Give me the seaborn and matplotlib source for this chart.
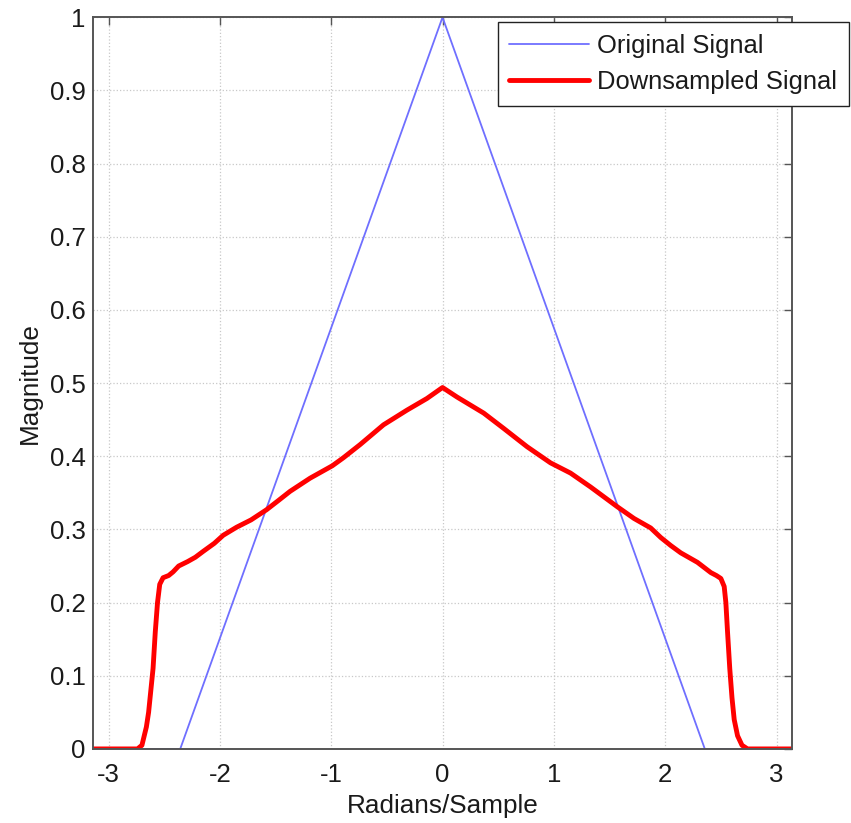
import numpy as np
import pandas as pd
import matplotlib
matplotlib.use('Agg')
import matplotlib.pyplot as plt
import seaborn as sns

# original signal: triangle spectrum (corner points)
orig_x = [-np.pi, -2.356, 0.0, 2.356, np.pi]
orig_y = [0.0, 0.0, 1.0, 0.0, 0.0]

# downsampled signal
down_x = [-np.pi, -2.74, -2.70, -2.66, -2.64, -2.62, -2.60, -2.58, -2.56, -2.54,
          -2.51, -2.46, -2.42, -2.37, -2.29, -2.22, -2.15, -2.05, -1.97, -1.85,
          -1.72, -1.58, -1.47, -1.37, -1.19, -0.99, -0.89, -0.74, -0.53, -0.32,
          -0.14, 0.0, 0.13, 0.37, 0.55, 0.76, 0.97, 1.15, 1.33, 1.57,
          1.72, 1.87, 1.96, 2.05, 2.14, 2.29, 2.41, 2.46, 2.50, 2.53,
          2.545, 2.56, 2.58, 2.60, 2.62, 2.65, 2.69, 2.74, np.pi]
down_y = [0.0, 0.0, 0.005, 0.03, 0.05, 0.08, 0.11, 0.16, 0.20, 0.225,
          0.234, 0.237, 0.242, 0.250, 0.256, 0.262, 0.270, 0.281, 0.292, 0.303,
          0.313, 0.327, 0.340, 0.352, 0.370, 0.387, 0.398, 0.416, 0.443, 0.463,
          0.479, 0.494, 0.481, 0.459, 0.438, 0.413, 0.391, 0.377, 0.358, 0.331,
          0.315, 0.302, 0.289, 0.278, 0.268, 0.255, 0.241, 0.237, 0.233, 0.222,
          0.20, 0.16, 0.11, 0.07, 0.04, 0.018, 0.005, 0.0, 0.0]

xticks = [-3, -2, -1, 0, 1, 2, 3]
yticks = [0, 0.1, 0.2, 0.3, 0.4, 0.5, 0.6, 0.7, 0.8, 0.9, 1]
ytick_labels = ['0', '0.1', '0.2', '0.3', '0.4', '0.5', '0.6', '0.7', '0.8', '0.9', '1']

sns.set_style('white')
plt.rcParams['font.family'] = ['Liberation Sans', 'DejaVu Sans']
plt.rcParams['text.color'] = '#1a1a1a'

df_orig = pd.DataFrame({'x': orig_x, 'y': orig_y})
df_down = pd.DataFrame({'x': down_x, 'y': down_y})

fig = plt.figure(figsize=(8.51, 8.23), dpi=100)
ax = fig.add_axes([0.109, 0.090, 0.822, 0.889])

sns.lineplot(data=df_orig, x='x', y='y', ax=ax, sort=False, estimator=None,
             color='#6f6fff', lw=1.3, label='Original Signal')
sns.lineplot(data=df_down, x='x', y='y', ax=ax, sort=False, estimator=None,
             color='#ff0000', lw=3.5, label='Downsampled Signal')

ax.set_xlim(-np.pi, np.pi)
ax.set_ylim(0, 1)
ax.set_xticks(xticks)
ax.set_xticklabels([str(t) for t in xticks])
ax.set_yticks(yticks)
ax.set_yticklabels(ytick_labels)
ax.tick_params(direction='in', length=6, width=1, color='#555555',
               top=True, right=True, labelsize=18.5, labelcolor='#1a1a1a')
ax.tick_params(axis='x', pad=10)
ax.tick_params(axis='y', pad=5)
ax.grid(True, ls=':', lw=0.9, color='#c8c8c8')
for sp in ax.spines.values():
    sp.set_color('#555555')
    sp.set_linewidth(1.4)

ax.set_xlabel('Radians/Sample', fontsize=18.8, labelpad=5, color='#1a1a1a')
ax.set_ylabel('Magnitude', fontsize=18.8, labelpad=6, color='#1a1a1a')

leg = ax.legend(loc='upper left', bbox_to_anchor=(0.579, 0.993), fontsize=18.4,
                frameon=True, fancybox=False, framealpha=1, edgecolor='#222222',
                handlelength=3.1, handletextpad=0.35, labelspacing=0.48,
                borderaxespad=0, borderpad=0.45)
leg.get_frame().set_linewidth(1.0)

plt.savefig('out.png', dpi=100)
